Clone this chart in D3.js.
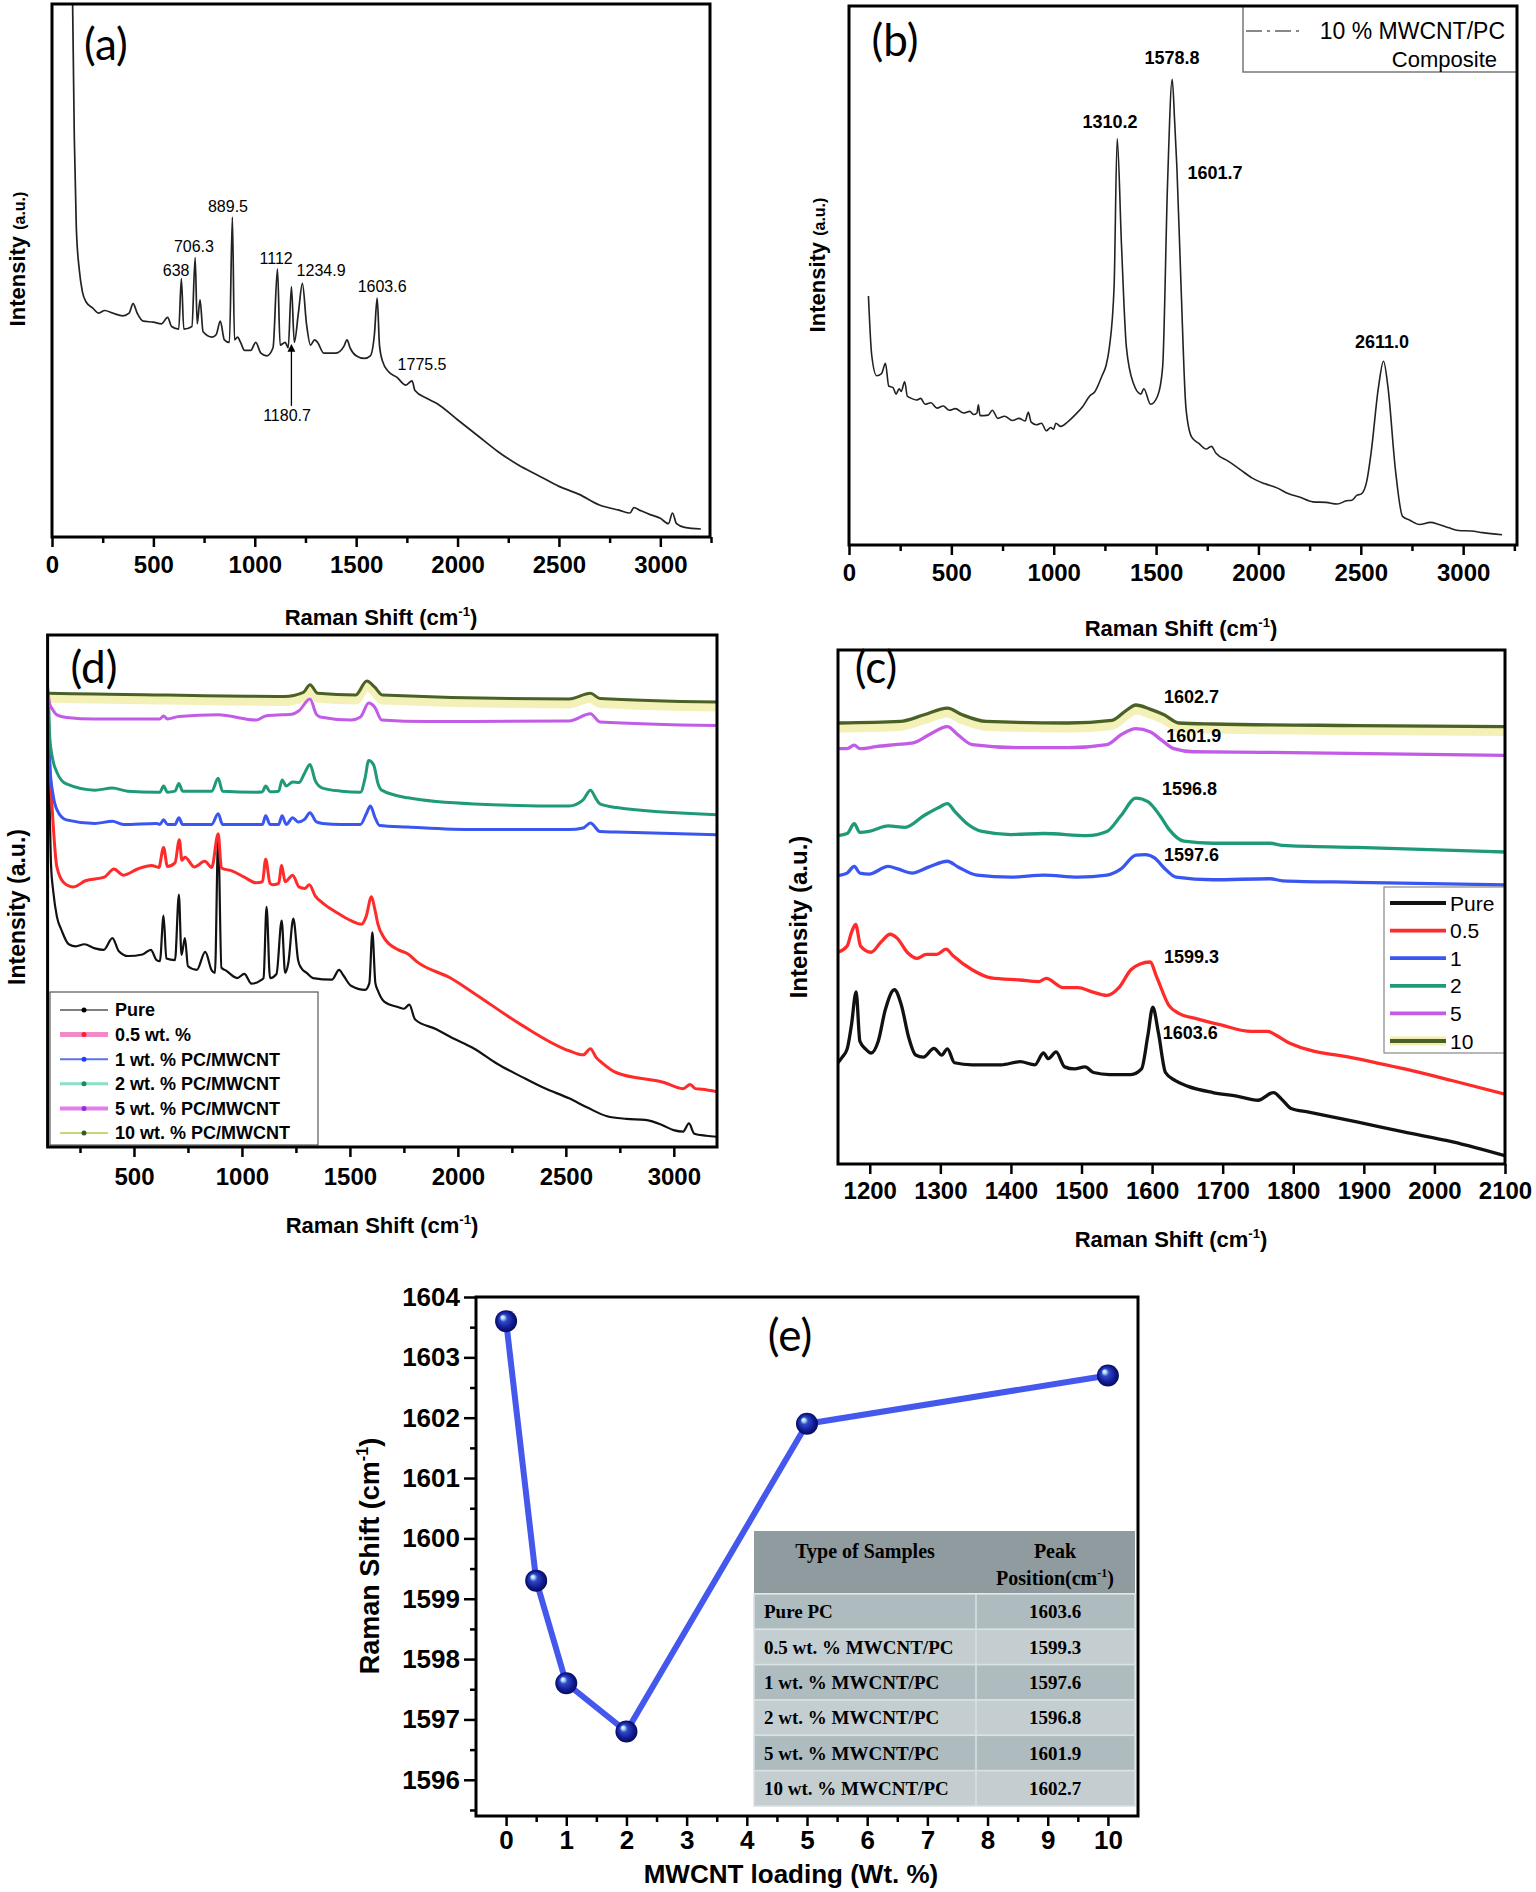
<!DOCTYPE html>
<html lang="en">
<head>
<meta charset="UTF-8">
<script src="https://d3js.org/d3.v7.min.js"></script>
<title>Raman spectra of PC/MWCNT</title>
<style>
  body { margin: 0; background: #fff; }
</style>
</head>
<body>
<svg width="1536" height="1892"></svg>
<script>
// ---------- data ----------
// (a) pure PC spectrum, [Raman shift, relative intensity 0-100]
var specA = [[100,105],[110,75],[120,58],[135,50],[150,46],[170,44],[200,43],[230,42],[260,42.5],[300,42],[350,41.5],[380,42],[400,43.8],[420,42],[450,40.5],[500,40.3],[540,40],[570,41.2],[590,39.5],[625,39],[638,48.5],[650,39],[690,39.5],[706,52.4],[716,40],[730,44.5],[745,38.5],[790,37.5],[810,38],[830,40.5],[850,37],[875,36.5],[889.5,60],[900,37],[915,37.5],[930,36.5],[950,35],[980,35],[1005,36.5],[1030,34.5],[1060,34],[1090,35.5],[1112,50.3],[1125,36],[1150,36.5],[1165,35.5],[1180.7,47],[1195,36.5],[1215,42],[1234.9,47.6],[1255,40],[1275,36],[1295,37],[1310,36.5],[1340,34.5],[1400,34.5],[1440,35.8],[1455,37],[1470,35.5],[1500,34],[1540,33.5],[1570,34],[1590,38],[1603.6,44.8],[1615,36],[1630,33],[1660,31],[1700,30],[1745,28.5],[1775.5,29.3],[1790,27.5],[1850,26],[1900,25],[2000,22],[2100,19],[2200,16],[2300,13.5],[2400,11.5],[2500,9.5],[2600,8],[2700,6],[2800,5],[2850,4.5],[2870,5.5],[2900,5],[2950,4.2],[3000,3.5],[3040,2.5],[3060,4.5],[3080,2.5],[3120,1.8],[3200,1.5]];
// (a) peak labels: [text, x, y]
var peaksA = [["638",612,50.1],["706.3",700,54.6],["889.5",868,62.1],["1112",1105,52.3],["1234.9",1327,50],["1603.6",1628,47.1],["1775.5",1825,32.4],["1180.7",1159,22.9]];

// (b) 10 % MWCNT/PC composite
var specB = [[95,46.2],[111,35.2],[135,31.4],[159,31.8],[178,33.7],[194,29.5],[215,29.2],[230,28],[245,29],[255,28.5],[272,30.3],[285,27.6],[300,27.3],[330,26.9],[350,27.2],[372,26.1],[400,26.4],[430,25.4],[460,25.8],[490,25],[520,25.3],[560,24.5],[590,24.8],[609,24.2],[625,24.5],[632,26],[640,24],[680,24.1],[700,25],[727,23.5],[760,23.9],[798,23.1],[830,23.5],[860,23],[876,24.6],[890,22.8],[916,22.3],[940,22.6],[964,21.2],[985,21.8],[1000,21.5],[1010,22.6],[1035,22],[1070,22.9],[1106,24.2],[1140,25.6],[1177,27.7],[1200,28.4],[1236,31.4],[1255,33.2],[1272,36.7],[1295,48],[1310,75.4],[1331,55.7],[1355,36.7],[1390,29.9],[1426,28],[1440,29],[1473,26.1],[1508,27.7],[1532,33],[1556,67],[1578.8,86.4],[1591,78.4],[1601.7,70],[1622,48],[1646,25.4],[1674,20],[1710,18.8],[1745,17.8],[1770,18.3],[1793,17],[1850,15.6],[1911,14],[1970,12.4],[2029,11.4],[2090,10.6],[2148,9.5],[2200,8.9],[2266,8],[2330,7.9],[2385,7.6],[2430,8.2],[2456,8.3],[2480,9.2],[2503,9.5],[2530,12],[2550,17],[2586,29.2],[2611,34.1],[2633,29.2],[2669,14],[2704,5.3],[2740,4.6],[2787,3.8],[2840,4.2],[2882,3.8],[2930,3.2],[2977,2.7],[3040,2.6],[3095,2.3],[3190,1.9]];
var peaksB = [["1310.2",1275,78.5],["1578.8",1578,90.5],["1601.7",1788,69],["2611.0",2604,37.8]];

// (d) full range, stacked
var dPure = [[100,89],[108,70],[116,55],[126,50],[143,45],[165,42.3],[198,39.6],[231,39.2],[270,39.6],[319,38.8],[360,38.5],[400,40.8],[429,38.3],[473,37.3],[539,37.6],[578,38.5],[605,36.5],[620,36.3],[637,45.2],[650,36.8],[690,36.5],[708,49.3],[720,37.5],[736,40.8],[750,35.3],[791,34.6],[830,38.1],[860,34.5],[875,34],[890,60.8],[905,35],[925,34.5],[978,33],[1011,33.8],[1044,31.9],[1085,32.5],[1100,33],[1114,46.9],[1130,33],[1160,33.8],[1184,44.2],[1200,34],[1215,36],[1238,44.6],[1260,36.5],[1274,35],[1300,34],[1329,33],[1417,32.7],[1450,34.6],[1470,33.5],[1505,31.5],[1571,30.7],[1590,32],[1604,41.9],[1618,32],[1630,30.5],[1659,28.4],[1725,27.3],[1750,27],[1775,27.8],[1802,24.9],[1900,23],[1966,21.5],[2076,19.2],[2180,16.3],[2296,13.7],[2400,11.5],[2515,9.5],[2600,7.7],[2691,6],[2780,5.5],[2867,5.3],[2900,5],[2950,4.2],[2999,3.3],[3043,3],[3070,4.6],[3095,2.6],[3150,2.2],[3200,2]];
var dHalf = [[100,90],[105,82],[110,75],[121,66.3],[143,54.7],[176,51.6],[220,50.8],[275,52],[363,52.7],[407,54.3],[451,53.1],[517,54.3],[582,55],[615,54.6],[637,58.5],[655,54.8],[690,55.5],[710,60],[722,56],[736,56.6],[780,54.7],[828,55.8],[860,54.6],[890,61.2],[905,54.5],[956,53.9],[1011,52.7],[1066,51.6],[1095,51.8],[1110,56.2],[1130,51.5],[1143,51.2],[1170,51.5],[1184,55],[1200,51.8],[1235,53.1],[1264,50.8],[1290,50.5],[1312,51.2],[1340,49],[1373,47.7],[1439,45.8],[1505,44.2],[1554,43.5],[1575,45],[1600,48.9],[1615,46.5],[1630,43.5],[1659,40.8],[1725,38.5],[1769,37.7],[1813,36.1],[1966,33],[2076,30],[2296,23.8],[2515,18.8],[2581,18],[2614,19.2],[2640,17.5],[2669,16.4],[2735,14.5],[2955,12.6],[3043,11.4],[3076,12.2],[3100,11.4],[3131,11.3],[3200,10.8]];
var dOne = [[100,89],[105,80],[110,74.7],[126,68.6],[143,65.9],[187,63.9],[319,63.2],[400,63.6],[451,63],[605,63.2],[620,63],[637,63.9],[655,63],[690,63],[708,64.3],[725,63],[860,63],[890,65.1],[910,63],[1066,63],[1095,63],[1110,64.7],[1130,63],[1170,63],[1186,64.7],[1205,63],[1235,64.3],[1260,63.5],[1290,64],[1315,65.3],[1345,63.5],[1373,63.2],[1461,63],[1549,63],[1575,65],[1595,66.6],[1615,64.5],[1637,62.8],[1769,62.5],[2076,62],[2515,62],[2580,62.3],[2614,63.3],[2658,61.6],[2735,61.5],[3200,61]];
var dTwo = [[100,89],[105,86],[110,80],[121,76.3],[143,73.2],[187,70.9],[319,69.7],[400,70.1],[470,69.5],[605,69.3],[620,69.3],[637,70.5],[655,69.3],[690,69.5],[708,71],[725,69.5],[860,69.5],[890,72],[910,69.5],[1066,69.3],[1095,69.4],[1110,70.5],[1130,69.4],[1170,69.5],[1186,71.7],[1205,70.5],[1235,71.3],[1264,71.2],[1290,73],[1315,74.7],[1340,71.5],[1373,70.1],[1461,69.5],[1549,69.3],[1570,72],[1587,75.5],[1610,74.6],[1630,71],[1647,69.7],[1769,68.2],[2076,67],[2515,66.6],[2580,67.8],[2614,69.7],[2640,68],[2658,67],[2735,66.3],[3200,64.9]];
var dFive = [[100,89.5],[110,86.5],[121,85.6],[143,84.4],[187,83.9],[319,83.6],[620,83.6],[637,84.2],[655,83.6],[708,84.1],[890,84.4],[1066,83.4],[1110,84.2],[1186,84.4],[1230,84.5],[1264,85.2],[1315,87.5],[1345,84.5],[1362,84],[1505,83.4],[1549,84],[1587,86.7],[1615,85.9],[1647,83.4],[1856,83.1],[2515,83.2],[2614,84.6],[2658,83],[3200,82.3]];
var dTen = [[100,88.6],[319,88.5],[1196,88],[1285,88.8],[1315,90.3],[1351,88.6],[1527,88.3],[1578,91],[1615,89.8],[1650,88.3],[2515,87.5],[2614,88.6],[2658,87.6],[3200,86.9]];
var legendD = ["Pure", "0.5 wt. %", "1 wt. % PC/MWCNT", "2 wt. % PC/MWCNT", "5 wt. % PC/MWCNT", "10 wt. % PC/MWCNT"];

// (c) 1155-2100 region, stacked
var cPure = [[1155,19.7],[1161,20.8],[1168,22.4],[1174,27],[1180.7,33.5],[1186,23.9],[1194,22.4],[1202,21.6],[1212,23.9],[1222,30],[1234.9,33.9],[1245,30.8],[1255,24.7],[1265,21.2],[1276,20.8],[1291,22.5],[1302,21.2],[1310,22.4],[1320,19.7],[1345,19.3],[1386,19.3],[1413,19.9],[1434,19.3],[1446,21.6],[1453,20.5],[1464,21.8],[1476,18.9],[1490,18.5],[1505,18.9],[1517,17.8],[1540,17.4],[1570,17.4],[1585,18.5],[1594,25],[1601,30.5],[1609,25.5],[1619,17.8],[1633,16.2],[1651,15.1],[1686,13.9],[1720,13.2],[1750,12.4],[1772,13.9],[1785,12.4],[1797,10.8],[1822,10.1],[1890,8.2],[1958,6.2],[2026,4.3],[2100,1.6]];
var cHalf = [[1155,41.2],[1168,42.4],[1174,45],[1180,46.6],[1187,42.4],[1202,41.2],[1216,43.2],[1229,44.7],[1239,43.9],[1253,41.2],[1267,40],[1280,40.8],[1295,40.8],[1308,41.8],[1318,40.5],[1345,37.8],[1372,36.2],[1413,35.8],[1440,35.5],[1450,36.1],[1474,34.3],[1495,34.3],[1515,33.5],[1536,32.8],[1553,34.3],[1570,37.8],[1583,38.9],[1597,39.3],[1607,36.2],[1624,30.8],[1638,29.3],[1665,28.2],[1699,27],[1740,25.8],[1764,25.8],[1775,25.1],[1795,23.5],[1890,20.5],[1958,18.5],[2026,16.2],[2100,13.6]];
var cOne = [[1155,56.1],[1168,56.6],[1178,57.9],[1186,56.6],[1199,56.4],[1226,57.9],[1240,57.4],[1260,56.6],[1284,57.8],[1310,58.9],[1325,57.8],[1352,56.2],[1400,55.8],[1447,56.2],[1495,55.8],[1536,56.2],[1556,57.4],[1577,60.1],[1590,60.2],[1604,59.5],[1617,57.6],[1634,55.8],[1686,55.3],[1767,55.5],[1785,55.1],[1890,54.8],[2100,54.3]];
var cTwo = [[1155,63.9],[1168,64.3],[1178,66.2],[1186,64.5],[1199,64.7],[1226,65.8],[1250,65.5],[1277,67.8],[1297,69.3],[1310,70.1],[1321,68.5],[1338,66.2],[1359,64.7],[1400,64.1],[1447,64.3],[1508,63.9],[1536,64.7],[1556,67.8],[1577,71.2],[1594,70.5],[1611,67.8],[1624,65.1],[1645,62.8],[1686,62.4],[1767,62.4],[1785,62],[1890,61.6],[2100,60.7]];
var cFive = [[1155,80.8],[1168,80.8],[1178,81.5],[1186,80.8],[1209,81.2],[1236,81.6],[1263,82],[1284,83.5],[1310,85.1],[1325,83.5],[1345,81.6],[1413,81],[1481,81],[1536,81.6],[1556,83.5],[1577,84.7],[1597,84.1],[1614,82.4],[1631,80.8],[1658,80.2],[1754,80.1],[2100,79.5]];
var cTen = [[1155,85.8],[1243,86.1],[1277,87.4],[1310,88.7],[1331,87.4],[1365,86.1],[1481,85.8],[1543,86.3],[1563,88.2],[1577,89.3],[1597,88.5],[1617,87.4],[1638,85.8],[1686,85.6],[1890,85.3],[2100,85.1]];
var legendC = ["Pure", "0.5", "1", "2", "5", "10"];
// G-band labels in (c): [text, x, y]
var peaksC = [["1602.7",1656,91],["1601.9",1659,83.4],["1596.8",1653,73.1],["1597.6",1656,60.1],["1599.3",1656,40.4],["1603.6",1654,25.6]];

// (e) G-band position vs loading
var loading = [0, 0.5, 1, 2, 5, 10];
var peakShift = [1603.6, 1599.3, 1597.6, 1596.8, 1601.9, 1602.7];
var sampleNames = ["Pure PC", "0.5 wt. % MWCNT/PC", "1 wt. % MWCNT/PC", "2 wt. % MWCNT/PC", "5 wt. % MWCNT/PC", "10 wt. % MWCNT/PC"];

var colors = ["#111111", "#ff2b2b", "#3a56f0", "#1f9a78", "#c25be6", "#4a6126"];

// ---------- helpers ----------
var sans = '"Liberation Sans", Arial, sans-serif';
var serif = '"Liberation Serif", "Times New Roman", serif';
var svg = d3.select('svg').attr('font-family', sans);
var defs = svg.append('defs');

function panel(id, box, xDomain, yDomain) {
	var x = d3.scaleLinear().domain(xDomain).range([box.l, box.r]);
	var y = d3.scaleLinear().domain(yDomain).range([box.b, box.t]);
	defs.append('clipPath').attr('id', 'clip-' + id)
	    .append('rect')
	    .attr('x', box.l).attr('y', box.t)
	    .attr('width', box.r - box.l).attr('height', box.b - box.t);
	var g = svg.append('g');
	var plot = g.append('g').attr('clip-path', 'url(#clip-' + id + ')');
	return {x: x, y: y, g: g, plot: plot, box: box};
}

function frame(p) {
	p.g.append('rect')
	   .attr('x', p.box.l).attr('y', p.box.t)
	   .attr('width', p.box.r - p.box.l).attr('height', p.box.b - p.box.t)
	   .attr('fill', 'none').attr('stroke', '#000').attr('stroke-width', 3);
}

function xAxis(p, major, minor, size, pad) {
	var a = p.g.append('g').attr('transform', 'translate(0,' + p.box.b + ')');
	if (minor) {
		a.append('g').call(d3.axisBottom(p.x).tickValues(minor).tickSize(6).tickFormat(''));
	}
	a.append('g').call(d3.axisBottom(p.x).tickValues(major).tickSize(10).tickPadding(pad).tickFormat(d3.format('d')));
	a.selectAll('.domain').remove();
	a.selectAll('line').attr('stroke', '#000').attr('stroke-width', 2.5);
	a.selectAll('text').attr('font-size', size).attr('font-weight', 'bold').attr('fill', '#000')
	 .attr('font-family', sans);
	return a;
}

function ramanTitle(t, size) {
	t.append('tspan').text('Raman Shift (cm');
	t.append('tspan').text('-1').attr('font-size', size * 0.6).attr('dy', -size * 0.42);
	t.append('tspan').text(')').attr('dy', size * 0.42);
}

function xTitle(cx, cy, size) {
	var t = svg.append('text').attr('x', cx).attr('y', cy).attr('text-anchor', 'middle')
	           .attr('font-size', size).attr('font-weight', 'bold');
	ramanTitle(t, size);
}

function intensityTitle(cx, cy, size, small) {
	var t = svg.append('text')
	           .attr('transform', 'translate(' + cx + ',' + cy + ') rotate(-90)')
	           .attr('text-anchor', 'middle').attr('dy', '0.35em')
	           .attr('font-size', size).attr('font-weight', 'bold');
	t.append('tspan').text('Intensity ');
	t.append('tspan').text('(a.u.)').attr('font-size', small);
}

function panelLetter(txt, cx, cy) {
	svg.append('text').attr('x', cx).attr('y', cy).attr('text-anchor', 'middle').attr('dy', '0.35em')
	   .attr('font-family', 'Lato, "Open Sans", sans-serif').attr('font-size', 44).text(txt);
}

function spectrum(p, data, color, width) {
	var line = d3.line().x(function(d) { return p.x(d[0]); })
	                    .y(function(d) { return p.y(d[1]); })
	                    .curve(d3.curveMonotoneX);
	return p.plot.append('path').datum(data).attr('d', line)
	        .attr('fill', 'none').attr('stroke', color).attr('stroke-width', width)
	        .attr('stroke-linejoin', 'round');
}

function halo(p, data, dy) {
	spectrum(p, data, '#f2efac', 9).attr('transform', 'translate(0,' + dy + ')').attr('opacity', 0.85);
}

var majorTicks = d3.range(0, 3001, 500);
var minorTicks = d3.range(250, 3251, 500);

// ---------- (a) ----------
var pa = panel('a', {l: 52, r: 710, t: 4, b: 537}, [0, 3245], [0, 100]);
spectrum(pa, specA, '#222', 1.7);
pa.g.selectAll('.plab').data(peaksA).enter().append('text')
    .attr('x', function(d) { return pa.x(d[1]); })
    .attr('y', function(d) { return pa.y(d[2]); })
    .attr('dy', '0.35em').attr('text-anchor', 'middle').attr('font-size', 16)
    .text(function(d) { return d[0]; });
defs.append('marker').attr('id', 'arrowhead').attr('viewBox', '0 0 10 10')
    .attr('refX', 5).attr('refY', 5).attr('markerWidth', 6).attr('markerHeight', 8)
    .attr('orient', 'auto-start-reverse')
    .append('path').attr('d', 'M0,0 L10,5 L0,10 z').attr('fill', '#000');
pa.g.append('line')
    .attr('x1', pa.x(1180.7)).attr('x2', pa.x(1180.7))
    .attr('y1', pa.y(24.6)).attr('y2', pa.y(35.5))
    .attr('stroke', '#000').attr('stroke-width', 1.3).attr('marker-end', 'url(#arrowhead)');
frame(pa);
xAxis(pa, majorTicks, minorTicks, 24, 9);
xTitle(381, 625, 22);
intensityTitle(17, 259, 22, 16);
panelLetter('(a)', 106, 45);

// ---------- (b) ----------
var pb = panel('b', {l: 849, r: 1517, t: 6, b: 545}, [0, 3263], [0, 100]);
spectrum(pb, specB, '#222', 1.6);
pb.g.selectAll('.plab').data(peaksB).enter().append('text')
    .attr('x', function(d) { return pb.x(d[1]); })
    .attr('y', function(d) { return pb.y(d[2]); })
    .attr('dy', '0.35em').attr('text-anchor', 'middle').attr('font-size', 18).attr('font-weight', 'bold')
    .text(function(d) { return d[0]; });
pb.g.append('rect').attr('x', 1243).attr('y', 6).attr('width', 274).attr('height', 66)
    .attr('fill', '#fff').attr('stroke', '#777').attr('stroke-width', 1.5);
pb.g.append('line').attr('x1', 1246).attr('x2', 1301).attr('y1', 31).attr('y2', 31)
    .attr('stroke', '#888').attr('stroke-width', 2).attr('stroke-dasharray', '16,5,3,5');
pb.g.append('text').attr('x', 1505).attr('y', 39).attr('text-anchor', 'end').attr('font-size', 23).text('10 % MWCNT/PC');
pb.g.append('text').attr('x', 1497).attr('y', 67).attr('text-anchor', 'end').attr('font-size', 22).text('Composite');
frame(pb);
xAxis(pb, majorTicks, minorTicks, 24, 9);
xTitle(1181, 636, 22);
intensityTitle(817, 265, 22, 16);
panelLetter('(b)', 895, 41);

// ---------- (d) ----------
var pd = panel('d', {l: 47.6, r: 717, t: 635, b: 1147}, [100, 3200], [0, 100]);
var dSeries = [dPure, dHalf, dOne, dTwo, dFive, dTen];
halo(pd, dTen, 5);
dSeries.forEach(function(s, i) { spectrum(pd, s, colors[i], i === 0 ? 2.2 : 3); });
var legD = pd.g.append('g');
legD.append('rect').attr('x', 50).attr('y', 992).attr('width', 268).attr('height', 153)
    .attr('fill', '#fff').attr('stroke', '#555').attr('stroke-width', 1.2);
var legDLine = ['#555', '#f08ac8', '#6070f0', '#88e0c8', '#e080e8', '#c8d878'];
var legDLineW = [1.5, 5, 2, 3, 4, 2];
var legDDot = ['#000', '#ff2020', '#2040ff', '#1a8a60', '#9030e0', '#3a5a20'];
var legDy = d3.scaleLinear().domain([0, 5]).range([1010, 1133]);
legendD.forEach(function(name, i) {
	legD.append('line').attr('x1', 60).attr('x2', 108).attr('y1', legDy(i)).attr('y2', legDy(i))
	    .attr('stroke', legDLine[i]).attr('stroke-width', legDLineW[i]);
	legD.append('circle').attr('cx', 84).attr('cy', legDy(i)).attr('r', 2.5).attr('fill', legDDot[i]);
	legD.append('text').attr('x', 115).attr('y', legDy(i)).attr('dy', '0.36em')
	    .attr('font-size', 18).attr('font-weight', 'bold').text(name);
});
frame(pd);
xAxis(pd, d3.range(500, 3001, 500), d3.range(250, 3200, 500), 24, 11);
xTitle(382, 1233, 22);
intensityTitle(17, 907, 23, 23);
panelLetter('(d)', 94, 668);

// ---------- (c) ----------
var pc = panel('c', {l: 838, r: 1505, t: 650, b: 1164}, [1155, 2100], [0, 100]);
var cSeries = [cPure, cHalf, cOne, cTwo, cFive, cTen];
halo(pc, cTen, 5);
cSeries.forEach(function(s, i) { spectrum(pc, s, colors[i], 3.3); });
pc.g.selectAll('.plab').data(peaksC).enter().append('text')
    .attr('x', function(d) { return pc.x(d[1]); })
    .attr('y', function(d) { return pc.y(d[2]); })
    .attr('dy', '0.35em').attr('text-anchor', 'middle').attr('font-size', 18).attr('font-weight', 'bold')
    .text(function(d) { return d[0]; });
var legC = pc.g.append('g');
legC.append('rect').attr('x', 1384).attr('y', 887).attr('width', 121).attr('height', 166)
    .attr('fill', '#fff').attr('stroke', '#888').attr('stroke-width', 1.2);
var legCy = d3.scaleLinear().domain([0, 5]).range([903, 1041]);
legendC.forEach(function(name, i) {
	if (i === 5) {
		legC.append('line').attr('x1', 1390).attr('x2', 1446).attr('y1', legCy(i)).attr('y2', legCy(i))
		    .attr('stroke', '#f2efac').attr('stroke-width', 9);
	}
	legC.append('line').attr('x1', 1390).attr('x2', 1446).attr('y1', legCy(i)).attr('y2', legCy(i))
	    .attr('stroke', colors[i]).attr('stroke-width', 3.8);
	legC.append('text').attr('x', 1450).attr('y', legCy(i)).attr('dy', '0.36em')
	    .attr('font-size', 21).text(name);
});
frame(pc);
xAxis(pc, d3.range(1200, 2101, 100), null, 24, 8);
xTitle(1171, 1247, 22);
intensityTitle(799, 917, 24, 24);
panelLetter('(c)', 876, 668);

// ---------- (e) ----------
var pe = panel('e', {l: 476, r: 1138, t: 1297, b: 1816}, [-0.5, 10.5], [1595.4, 1604]);
var grad = defs.append('radialGradient').attr('id', 'ball')
               .attr('cx', '50%').attr('cy', '50%').attr('r', '50%').attr('fx', '32%').attr('fy', '30%');
[[0, '#f0ffff'], [0.16, '#a8dcf0'], [0.34, '#3448c8'], [0.75, '#0f1a92'], [1, '#060c58']].forEach(function(s) {
	grad.append('stop').attr('offset', s[0]).attr('stop-color', s[1]);
});

// table (drawn under the curve)
var tab = pe.g.append('g');
var tabX = [754, 976, 1135];
tab.append('rect').attr('x', tabX[0]).attr('y', 1531).attr('width', tabX[2] - tabX[0]).attr('height', 62).attr('fill', '#8f9b9e');
var rowY = d3.scaleBand().domain(d3.range(sampleNames.length)).range([1594, 1806]);
var rowFill = ['#aebbbf', '#c4ced1'];
sampleNames.forEach(function(name, i) {
	tab.append('rect').attr('x', tabX[0]).attr('y', rowY(i)).attr('width', tabX[2] - tabX[0]).attr('height', rowY.bandwidth())
	   .attr('fill', rowFill[i % 2]).attr('stroke', '#d9e1e3').attr('stroke-width', 1.5);
});
tab.append('line').attr('x1', tabX[1]).attr('x2', tabX[1]).attr('y1', 1594).attr('y2', 1806)
   .attr('stroke', '#d9e1e3').attr('stroke-width', 1.5);
tab.append('text').attr('x', 865).attr('y', 1558).attr('text-anchor', 'middle').attr('font-family', serif)
   .attr('font-weight', 'bold').attr('font-size', 20).text('Type of Samples');
tab.append('text').attr('x', 1055).attr('y', 1558).attr('text-anchor', 'middle').attr('font-family', serif)
   .attr('font-weight', 'bold').attr('font-size', 20).text('Peak');
var pos = tab.append('text').attr('x', 1055).attr('y', 1585).attr('text-anchor', 'middle').attr('font-family', serif)
   .attr('font-weight', 'bold').attr('font-size', 20);
pos.append('tspan').text('Position(cm');
pos.append('tspan').text('-1').attr('font-size', 12).attr('dy', -8);
pos.append('tspan').text(')').attr('dy', 8);
sampleNames.forEach(function(name, i) {
	var cy = rowY(i) + rowY.bandwidth() / 2;
	tab.append('text').attr('x', 764).attr('y', cy).attr('dy', '0.35em').attr('font-family', serif)
	   .attr('font-weight', 'bold').attr('font-size', 19).text(name);
	tab.append('text').attr('x', 1055).attr('y', cy).attr('dy', '0.35em').attr('text-anchor', 'middle')
	   .attr('font-family', serif).attr('font-weight', 'bold').attr('font-size', 19)
	   .text(d3.format('.1f')(peakShift[i]));
});

var eLine = d3.line().x(function(d, i) { return pe.x(loading[i]); }).y(function(d) { return pe.y(d); });
pe.plot.append('path').datum(peakShift).attr('d', eLine)
   .attr('fill', 'none').attr('stroke', '#4458ee').attr('stroke-width', 6).attr('stroke-linejoin', 'round');
pe.plot.selectAll('.ball').data(peakShift).enter().append('circle')
   .attr('cx', function(d, i) { return pe.x(loading[i]); })
   .attr('cy', function(d) { return pe.y(d); })
   .attr('r', 11).attr('fill', 'url(#ball)');
frame(pe);
xAxis(pe, d3.range(0, 11, 1), d3.range(0.5, 10, 1), 26, 5);
var ya = pe.g.append('g').attr('transform', 'translate(' + pe.box.l + ',0)');
ya.append('g').call(d3.axisLeft(pe.y).tickValues(d3.range(1595.5, 1604, 1)).tickSize(6).tickFormat(''));
ya.append('g').call(d3.axisLeft(pe.y).tickValues(d3.range(1596, 1604.5, 1)).tickSize(12).tickPadding(4).tickFormat(d3.format('d')));
ya.selectAll('.domain').remove();
ya.selectAll('line').attr('stroke', '#000').attr('stroke-width', 2.5);
ya.selectAll('text').attr('font-size', 26).attr('font-weight', 'bold').attr('fill', '#000')
  .attr('font-family', sans);
svg.append('text').attr('x', 791).attr('y', 1883).attr('text-anchor', 'middle')
   .attr('font-size', 26).attr('font-weight', 'bold').text('MWCNT loading (Wt. %)');
var yt = svg.append('text').attr('transform', 'translate(370,1556) rotate(-90)')
            .attr('text-anchor', 'middle').attr('dy', '0.35em')
            .attr('font-size', 27).attr('font-weight', 'bold');
ramanTitle(yt, 27);
panelLetter('(e)', 790, 1336);
</script>
</body>
</html>
